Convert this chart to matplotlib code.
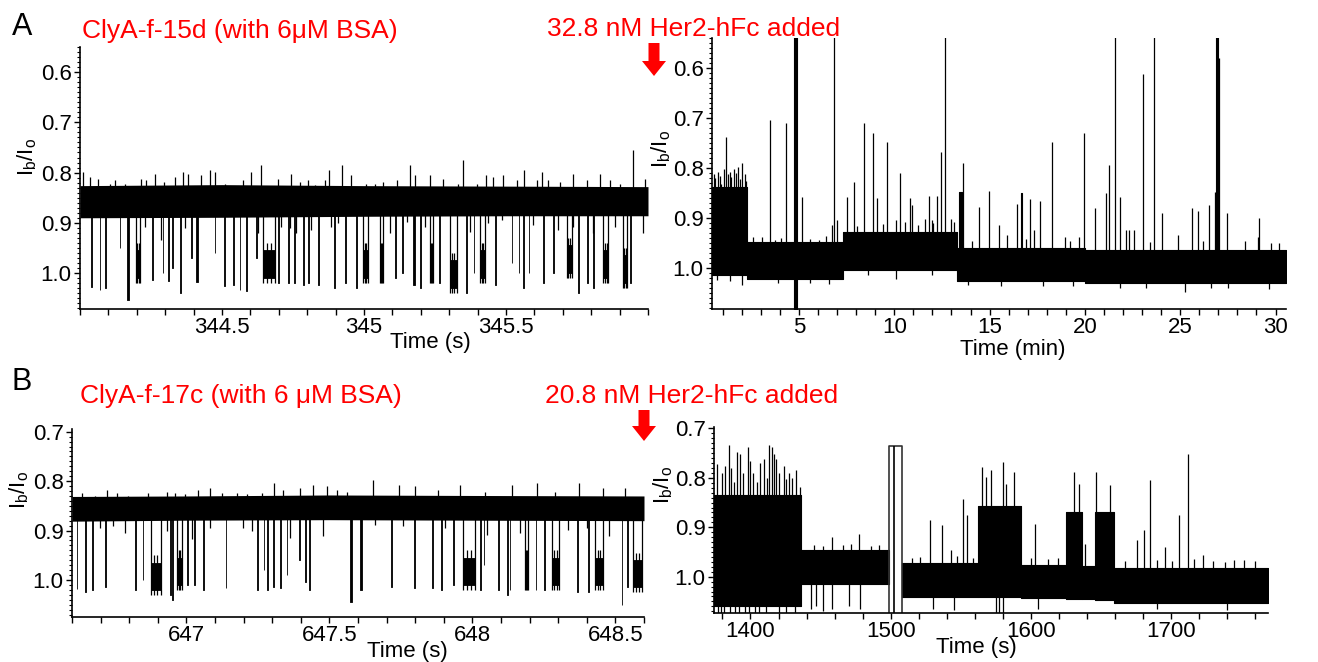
import matplotlib
matplotlib.use("Agg")
import matplotlib.pyplot as plt
import matplotlib.transforms as mtransforms
from matplotlib.patches import FancyArrow
from matplotlib.ticker import MultipleLocator, FixedLocator, FormatStrFormatter

plt.rcParams["font.family"] = ["Liberation Sans", "DejaVu Sans"]
plt.rcParams["mathtext.default"] = "regular"

# ------------------------------------------------------------------
# Panel A, left: ClyA-f-15d trace (time in s)
# ------------------------------------------------------------------
a_left_band_t = [344.0, 344.5, 345.0, 345.5, 346.0]
a_left_band_top = [0.826, 0.824, 0.826, 0.827, 0.828]
a_left_band_bot = [0.890, 0.889, 0.887, 0.886, 0.886]

a_left_event_t = [344.040, 344.069, 344.087, 344.140, 344.167, 344.198, 344.254, 344.292,
                  344.310, 344.325, 344.351, 344.392, 344.410, 344.474, 344.506, 344.539,
                  344.562, 344.586, 344.620, 344.644, 344.697, 344.732, 344.755, 344.785,
                  344.803, 344.838, 344.894, 344.932, 344.973, 344.997, 345.056, 345.109,
                  345.133, 345.174, 345.197, 345.232, 345.265, 345.303, 345.359, 345.387,
                  345.408, 345.461, 345.520, 345.545, 345.561, 345.580, 345.631, 345.667,
                  345.714, 345.755, 345.786, 345.806, 345.842, 345.912, 345.937]
a_left_event_dur = [0.003, 0.003, 0.003, 0.002, 0.004, 0.012, 0.003, 0.002,
                    0.003, 0.002, 0.004, 0.002, 0.004, 0.002, 0.004, 0.003,
                    0.003, 0.003, 0.002, 0.042, 0.003, 0.004, 0.003, 0.003,
                    0.003, 0.004, 0.004, 0.004, 0.004, 0.017, 0.011, 0.003,
                    0.003, 0.004, 0.003, 0.011, 0.004, 0.023, 0.003, 0.002,
                    0.018, 0.004, 0.002, 0.002, 0.003, 0.002, 0.004, 0.002,
                    0.017, 0.003, 0.003, 0.003, 0.018, 0.014, 0.003]
a_left_event_level = [1.028, 1.034, 1.030, 0.950, 1.054, 1.020, 1.014, 1.000,
                      1.016, 0.990, 1.040, 0.970, 1.018, 0.960, 1.026, 1.024,
                      1.034, 1.036, 0.970, 1.020, 1.020, 1.020, 1.020, 1.024,
                      1.020, 1.024, 1.030, 1.020, 1.030, 1.020, 1.020, 1.010,
                      1.000, 1.024, 1.030, 1.020, 1.020, 1.040, 1.040, 1.000,
                      1.020, 1.024, 0.980, 1.000, 1.030, 1.000, 1.020, 1.000,
                      1.010, 1.040, 1.020, 1.030, 1.020, 1.030, 1.020]

a_left_spike_t = [344.011, 344.034, 344.063, 344.105, 344.122, 344.157, 344.216, 344.234,
                  344.265, 344.296, 344.333, 344.363, 344.380, 344.427, 344.457, 344.474,
                  344.509, 344.545, 344.574, 344.601, 344.639, 344.697, 344.742, 344.774,
                  344.803, 344.829, 344.862, 344.876, 344.924, 344.955, 345.008, 345.039,
                  345.068, 345.115, 345.162, 345.180, 345.232, 345.279, 345.332, 345.350,
                  345.397, 345.430, 345.455, 345.491, 345.538, 345.563, 345.608, 345.626,
                  345.649, 345.690, 345.737, 345.784, 345.831, 345.866, 345.901, 345.946,
                  345.990]
a_left_spike_tip = [0.799, 0.809, 0.812, 0.822, 0.815, 0.822, 0.812, 0.815,
                    0.802, 0.818, 0.809, 0.799, 0.802, 0.805, 0.795, 0.799,
                    0.822, 0.828, 0.815, 0.799, 0.785, 0.812, 0.802, 0.818,
                    0.815, 0.825, 0.815, 0.795, 0.785, 0.805, 0.822, 0.822,
                    0.818, 0.815, 0.785, 0.805, 0.805, 0.812, 0.822, 0.775,
                    0.822, 0.805, 0.809, 0.805, 0.815, 0.795, 0.815, 0.799,
                    0.815, 0.818, 0.802, 0.815, 0.802, 0.815, 0.822, 0.755,
                    0.812]

a_left_dip_t = [344.228, 344.286, 344.369, 344.627, 344.709, 344.738, 344.762, 344.815,
                344.885, 344.909, 345.092, 345.150, 345.215, 345.373, 345.438, 345.485,
                345.596, 345.684, 345.737, 345.808, 345.884, 345.984]
a_left_dip_tip = [0.908, 0.935, 0.911, 0.921, 0.908, 0.911, 0.921, 0.915,
                  0.908, 0.901, 0.921, 0.898, 0.908, 0.918, 0.901, 0.895,
                  0.905, 0.915, 0.908, 0.921, 0.908, 0.921]

# ------------------------------------------------------------------
# Panel A, right: long recording after Her2-hFc addition (time in min)
# ------------------------------------------------------------------
a_right_seg_start = [0.44, 2.30, 7.29, 13.30, 20.0]
a_right_seg_end = [2.30, 7.29, 13.30, 20.0, 30.55]
a_right_seg_top = [0.837, 0.947, 0.927, 0.960, 0.964]
a_right_seg_bot = [1.014, 1.021, 1.004, 1.025, 1.030]

a_right_spike_t = [0.556, 0.745, 0.933, 1.05, 1.18, 1.365, 1.61, 1.80, 2.02, 2.17,
                   3.47, 4.34, 5.18, 6.82, 7.53, 7.91, 8.42, 8.89, 9.09, 9.62,
                   10.32, 10.82, 10.95, 11.80, 12.23, 12.44, 12.65, 13.59, 14.43, 14.96,
                   16.45, 17.10, 17.63, 18.29, 19.98, 20.55, 21.11, 21.26, 21.58, 21.86,
                   23.05, 23.65, 24.06, 25.64, 25.94, 26.51, 26.84, 27.02, 27.47, 29.14,
                   2.59, 3.72, 5.60, 6.07, 6.72, 7.00, 10.11, 10.58, 11.61, 11.99,
                   12.97, 13.12, 15.52, 15.94, 17.35, 18.95, 19.70, 22.14, 22.33, 22.60,
                   24.87, 29.10, 29.76, 0.62, 0.85, 1.28, 1.46, 1.70, 1.92, 2.24,
                   3.05, 4.05, 6.40, 8.05, 9.40, 11.25, 12.05, 14.10, 16.90, 19.20,
                   23.40, 26.20, 28.40, 30.20]
a_right_spike_tip = [0.811, 0.807, 0.831, 0.801, 0.737, 0.807, 0.801, 0.797, 0.789, 0.811,
                     0.704, 0.710, 0.857, 0.50, 0.857, 0.827, 0.710, 0.730, 0.860, 0.747,
                     0.810, 0.860, 0.873, 0.855, 0.855, 0.767, 0.50, 0.790, 0.878, 0.845,
                     0.872, 0.862, 0.865, 0.747, 0.729, 0.880, 0.850, 0.794, 0.50, 0.857,
                     0.611, 0.50, 0.890, 0.880, 0.885, 0.873, 0.847, 0.580, 0.890, 0.900,
                     0.937, 0.944, 0.941, 0.944, 0.914, 0.904, 0.904, 0.907, 0.901, 0.904,
                     0.901, 0.907, 0.914, 0.934, 0.924, 0.937, 0.937, 0.924, 0.924, 0.924,
                     0.934, 0.937, 0.950, 0.820, 0.815, 0.812, 0.818, 0.810, 0.822, 0.825,
                     0.938, 0.940, 0.935, 0.915, 0.912, 0.913, 0.910, 0.945, 0.942, 0.946,
                     0.948, 0.945, 0.946, 0.950]

a_right_dip_t = [0.70, 1.40, 2.02, 3.90, 5.60, 6.60, 8.60, 10.11, 12.00, 13.87,
                 15.60, 17.80, 19.40, 21.86, 23.20, 25.25, 26.60, 27.50, 29.66]
a_right_dip_tip = [1.024, 1.026, 1.034, 1.030, 1.030, 1.031, 1.013, 1.021, 1.014, 1.034,
                   1.036, 1.036, 1.035, 1.040, 1.040, 1.047, 1.040, 1.040, 1.042]

# thick bursts: start, end, top, bottom (min, I_b/I_o)
a_right_burst_start = [4.76, 13.40, 16.66, 26.90]
a_right_burst_end = [4.90, 13.58, 16.72, 26.98]
a_right_burst_top = [0.50, 0.847, 0.850, 0.50]
a_right_burst_bot = [1.10, 1.00, 1.00, 1.00]

# ------------------------------------------------------------------
# Panel B, left: ClyA-f-17c trace (time in s)
# ------------------------------------------------------------------
b_left_band_t = [646.6, 647.0, 647.5, 648.0, 648.6]
b_left_band_top = [0.831, 0.830, 0.828, 0.829, 0.830]
b_left_band_bot = [0.881, 0.879, 0.878, 0.879, 0.880]

b_left_event_t = [646.616, 646.645, 646.670, 646.715, 646.820, 646.847, 646.875, 646.943,
                  646.950, 646.967, 647.003, 647.027, 647.059, 647.138, 647.246, 647.270,
                  647.283, 647.302, 647.327, 647.350, 647.394, 647.415, 647.430, 647.572,
                  647.607, 647.715, 647.797, 647.858, 647.890, 647.933, 647.967, 648.027,
                  648.040, 648.090, 648.120, 648.130, 648.184, 648.221, 648.251, 648.277,
                  648.365, 648.405, 648.429, 648.522, 648.540, 648.562]
b_left_event_dur = [0.003, 0.004, 0.005, 0.003, 0.003, 0.002, 0.035, 0.003,
                    0.003, 0.018, 0.003, 0.003, 0.003, 0.002, 0.004, 0.002,
                    0.003, 0.003, 0.003, 0.002, 0.002, 0.003, 0.003, 0.008,
                    0.007, 0.003, 0.003, 0.003, 0.003, 0.003, 0.042, 0.003,
                    0.002, 0.003, 0.003, 0.003, 0.010, 0.003, 0.003, 0.026,
                    0.003, 0.003, 0.028, 0.002, 0.003, 0.030]
b_left_event_level = [1.019, 1.025, 1.020, 1.015, 1.020, 1.000, 1.030, 1.030,
                      1.040, 1.020, 1.010, 1.010, 1.020, 1.017, 1.020, 0.980,
                      1.020, 1.015, 1.017, 0.990, 0.960, 1.005, 1.020, 1.045,
                      1.020, 1.015, 1.017, 1.017, 1.020, 1.010, 1.020, 1.020,
                      0.970, 1.020, 1.030, 1.020, 1.020, 1.020, 1.020, 1.020,
                      1.024, 1.024, 1.020, 1.050, 1.015, 1.025]

b_left_spike_t = [646.634, 646.680, 646.721, 646.756, 646.797, 646.867, 646.931, 646.960,
                  646.995, 647.042, 647.083, 647.123, 647.176, 647.211, 647.263, 647.306,
                  647.339, 647.397, 647.444, 647.490, 647.525, 647.560, 647.654, 647.742,
                  647.800, 647.881, 647.957, 648.045, 648.138, 648.225, 648.289, 648.371,
                  648.458, 648.534]
b_left_spike_tip = [0.824, 0.831, 0.817, 0.824, 0.831, 0.824, 0.821, 0.824,
                    0.827, 0.817, 0.814, 0.824, 0.824, 0.827, 0.824, 0.804,
                    0.817, 0.814, 0.807, 0.810, 0.817, 0.821, 0.797, 0.807,
                    0.810, 0.817, 0.807, 0.821, 0.807, 0.804, 0.821, 0.804,
                    0.814, 0.814]

b_left_dip_t = [646.698, 646.745, 646.785, 646.931, 647.018, 647.083, 647.199, 647.228,
                647.362, 647.479, 647.660, 647.759, 647.905, 648.050, 648.167, 648.336,
                648.400, 648.476]
b_left_dip_tip = [0.895, 0.891, 0.905, 0.901, 0.918, 0.895, 0.895, 0.901,
                  0.915, 0.911, 0.888, 0.891, 0.895, 0.908, 0.905, 0.898,
                  0.895, 0.911]

# ------------------------------------------------------------------
# Panel B, right: long recording after Her2-hFc addition (time in s)
# ------------------------------------------------------------------
b_right_seg_start = [1374.0, 1436.0, 1508.0, 1562.5, 1593.0, 1625.3, 1636.5, 1645.7, 1659.0]
b_right_seg_end = [1436.0, 1498.5, 1562.5, 1593.0, 1625.3, 1636.5, 1645.7, 1659.0, 1769.0]
b_right_seg_top = [0.835, 0.946, 0.973, 0.856, 0.976, 0.869, 0.979, 0.869, 0.982]
b_right_seg_bot = [1.060, 1.014, 1.041, 1.041, 1.043, 1.045, 1.045, 1.047, 1.053]

b_right_spike_t = [1376.3, 1379.5, 1381.5, 1384.5, 1386.0, 1388.2, 1390.7, 1392.5, 1394.9,
                   1398.2, 1399.5, 1401.9, 1404.5, 1406.9, 1409.5, 1411.9, 1413.1, 1415.1,
                   1416.8, 1418.5, 1420.6, 1423.6, 1425.5, 1427.5, 1429.8, 1432.5,
                   1435.5, 1458.4, 1477.3, 1528.1, 1536.4, 1543.1, 1551.8, 1554.3,
                   1565.0, 1568.0, 1571.5, 1580.4, 1582.4, 1587.9, 1603.1, 1630.7,
                   1634.2, 1638.5, 1646.4, 1656.6, 1675.3, 1680.8, 1685.0, 1695.7,
                   1705.7, 1711.9, 1722.4, 1751.7,
                   1445.0, 1452.0, 1466.0, 1472.0, 1486.0, 1492.0, 1515.0, 1521.0,
                   1547.0, 1559.0, 1600.0, 1612.0, 1619.0, 1667.0, 1690.0, 1700.5,
                   1716.0, 1730.0, 1738.0, 1745.0, 1760.0]
b_right_spike_tip = [0.771, 0.790, 0.775, 0.734, 0.780, 0.808, 0.748, 0.751, 0.790,
                     0.738, 0.765, 0.790, 0.808, 0.770, 0.761, 0.800, 0.734, 0.738,
                     0.751, 0.761, 0.790, 0.775, 0.802, 0.790, 0.800, 0.785,
                     0.818, 0.920, 0.913, 0.886, 0.896, 0.946, 0.842, 0.876,
                     0.778, 0.798, 0.785, 0.768, 0.812, 0.788, 0.893, 0.788,
                     0.812, 0.933, 0.788, 0.815, 0.926, 0.906, 0.804, 0.940,
                     0.876, 0.751, 0.956, 0.967,
                     0.935, 0.938, 0.936, 0.934, 0.937, 0.936, 0.962, 0.960,
                     0.958, 0.962, 0.962, 0.965, 0.963, 0.968, 0.966, 0.968,
                     0.965, 0.968, 0.970, 0.966, 0.969]

b_right_dip_t = [1376.5, 1379.0, 1381.0, 1385.5, 1389.0, 1392.0, 1396.0, 1399.0, 1403.0,
                 1406.0, 1411.0, 1420.0, 1425.0, 1432.0, 1443.0, 1447.0, 1452.0, 1458.0,
                 1470.0, 1478.0, 1530.0, 1545.0, 1575.0, 1577.5, 1580.0, 1605.0, 1690.0,
                 1740.0]
b_right_dip_tip = [1.08, 1.08, 1.08, 1.08, 1.08, 1.08, 1.08, 1.08, 1.08,
                   1.08, 1.08, 1.08, 1.08, 1.08, 1.065, 1.06, 1.07, 1.065,
                   1.06, 1.065, 1.065, 1.068, 1.08, 1.08, 1.08, 1.065, 1.066,
                   1.068]

# off-scale excursion drawn as an open box
b_right_gap_t = [1498.5, 1498.5, 1508.0, 1508.0]
b_right_gap_v = [1.08, 0.735, 0.735, 1.08]
b_right_gap_mid_t = 1502.5

# ------------------------------------------------------------------
# Text
# ------------------------------------------------------------------
a_title = "ClyA-f-15d (with 6μM BSA)"
a_added = "32.8 nM Her2-hFc added"
b_title = "ClyA-f-17c (with 6 μM BSA)"
b_added = "20.8 nM Her2-hFc added"
ylabel = "I$_b$/I$_o$"

W, H = 1318, 662
RED = "#ff0000"
TICK_FS = 16
LW = 0.9


def px_axes(fig, left, top, right, bottom):
    return fig.add_axes([left / W, 1 - bottom / H, (right - left) / W, (bottom - top) / H])


def style_axes(ax, xlim, ylim, xmajor, xminor, xfmt, xlabel, xlab_pos, ylab_pos):
    ax.set_xlim(*xlim)
    ax.set_ylim(*ylim)  # inverted: larger value at bottom
    for side in ("top", "right"):
        ax.spines[side].set_visible(False)
    for side in ("left", "bottom"):
        ax.spines[side].set_linewidth(1.2)
    ax.xaxis.set_major_locator(FixedLocator(xmajor))
    ax.xaxis.set_minor_locator(MultipleLocator(xminor))
    ax.xaxis.set_major_formatter(FormatStrFormatter(xfmt))
    ax.yaxis.set_major_locator(MultipleLocator(0.1))
    ax.yaxis.set_minor_locator(MultipleLocator(0.01))
    ax.yaxis.set_major_formatter(FormatStrFormatter("%.1f"))
    ax.tick_params(axis="both", which="major", direction="out", length=4, width=1,
                   labelsize=TICK_FS, pad=2)
    ax.tick_params(axis="x", which="minor", direction="out", length=4, width=1)
    ax.tick_params(axis="y", which="minor", direction="out", length=2, width=0.8)
    ax.set_xlabel(xlabel, fontsize=TICK_FS, va="center", ha="center")
    ax.xaxis.set_label_coords(*xlab_pos)
    ax.set_ylabel(ylabel, fontsize=TICK_FS, va="center", ha="center")
    ax.yaxis.set_label_coords(*ylab_pos)


def draw_fast_trace(ax, band_t, band_top, band_bot, ev_t, ev_d, ev_lv,
                    sp_t, sp_tip, dip_t, dip_tip):
    base = sum(band_top + band_bot) / (len(band_top) + len(band_bot))
    ax.fill_between(band_t, band_top, band_bot, color="k", lw=0)
    ax.vlines(sp_t, base, sp_tip, color="k", lw=LW)
    ax.vlines(dip_t, base, dip_tip, color="k", lw=LW)
    for t, d, lv in zip(ev_t, ev_d, ev_lv):
        if d > 0.008:
            ax.fill_between([t, t + d], lv - 0.065, lv - 0.01, color="k", lw=0.6)
            ax.vlines([t, t + d], base, lv, color="k", lw=LW)
            ax.vlines([t + d / 3, t + 2 * d / 3], lv - 0.08, lv, color="k", lw=LW)
        else:
            ax.fill_between([t, t + d], base, lv, color="k", lw=0.6)


def draw_slow_trace(ax, s0, s1, top, bot, sp_t, sp_tip, dip_t, dip_tip):
    for a, b, tp, bt in zip(s0, s1, top, bot):
        ax.fill_between([a, b], tp, bt, color="k", lw=0.8)
    centres = [(tp + bt) / 2 for tp, bt in zip(top, bot)]

    def centre_at(t):
        for a, b, c in zip(s0, s1, centres):
            if a <= t <= b:
                return c
        return centres[-1]

    ax.vlines(sp_t, [centre_at(t) for t in sp_t], sp_tip, color="k", lw=LW)
    ax.vlines(dip_t, [centre_at(t) for t in dip_t], dip_tip, color="k", lw=LW)


fig = plt.figure(figsize=(W / 100, H / 100), dpi=100)

# ---------------- Panel A ----------------
ax1 = px_axes(fig, 80, 47, 648, 309)
draw_fast_trace(ax1, a_left_band_t, a_left_band_top, a_left_band_bot,
                a_left_event_t, a_left_event_dur, a_left_event_level,
                a_left_spike_t, a_left_spike_tip, a_left_dip_t, a_left_dip_tip)
style_axes(ax1, (344.0, 346.0), (1.0716, 0.550), [344.5, 345, 345.5], 0.1, "%g",
           "Time (s)", (0.616, -0.126), (-0.093, 0.58))

ax2 = px_axes(fig, 712, 38, 1286, 309)
draw_slow_trace(ax2, a_right_seg_start, a_right_seg_end, a_right_seg_top, a_right_seg_bot,
                a_right_spike_t, a_right_spike_tip, a_right_dip_t, a_right_dip_tip)
for a, b, tp, bt in zip(a_right_burst_start, a_right_burst_end,
                        a_right_burst_top, a_right_burst_bot):
    ax2.fill_between([a, b], tp, bt, color="k", lw=0.8)
style_axes(ax2, (0.44, 30.55), (1.0818, 0.539), [5, 10, 15, 20, 25, 30], 1, "%g",
           "Time (min)", (0.524, -0.148), (-0.089, 0.59))

# ---------------- Panel B ----------------
ax3 = px_axes(fig, 72, 429, 644, 617)
draw_fast_trace(ax3, b_left_band_t, b_left_band_top, b_left_band_bot,
                b_left_event_t, b_left_event_dur, b_left_event_level,
                b_left_spike_t, b_left_spike_tip, b_left_dip_t, b_left_dip_tip)
style_axes(ax3, (646.6, 648.6), (1.0749, 0.6945), [647, 647.5, 648, 648.5], 0.1, "%g",
           "Time (s)", (0.587, -0.181), (-0.093, 0.676))

ax4 = px_axes(fig, 714, 427, 1268, 613)
draw_slow_trace(ax4, b_right_seg_start, b_right_seg_end, b_right_seg_top, b_right_seg_bot,
                b_right_spike_t, b_right_spike_tip, b_right_dip_t, b_right_dip_tip)
ax4.plot(b_right_gap_t, b_right_gap_v, color="#333333", lw=1.2)
ax4.vlines([b_right_gap_mid_t], 0.735, 1.08, color="k", lw=1.2)
style_axes(ax4, (1374.0, 1769.0), (1.0735, 0.697), [1400, 1500, 1600, 1700], 20, "%g",
           "Time (s)", (0.473, -0.183), (-0.092, 0.688))

# ---------------- Labels, annotations ----------------
fig.text(12 / W, 1 - 35 / H, "A", fontsize=22, ha="left", va="baseline")
fig.text(12 / W, 1 - 390 / H, "B", fontsize=22, ha="left", va="baseline")
fig.text(82 / W, 1 - 38 / H, a_title, fontsize=19, color=RED, ha="left", va="baseline")
fig.text(547 / W, 1 - 36 / H, a_added, fontsize=19, color=RED, ha="left", va="baseline")
fig.text(80 / W, 1 - 403 / H, b_title, fontsize=19, color=RED, ha="left", va="baseline")
fig.text(545 / W, 1 - 403 / H, b_added, fontsize=19, color=RED, ha="left", va="baseline")

ident = mtransforms.IdentityTransform()
for x, y0, y1 in [(654, 43, 76), (644, 410, 441)]:
    fig.add_artist(FancyArrow(x, H - y0, 0, -(y1 - y0), width=11, head_width=24,
                              head_length=15, length_includes_head=True,
                              color=RED, lw=0, transform=ident))

fig.savefig("out.png", dpi=100)
